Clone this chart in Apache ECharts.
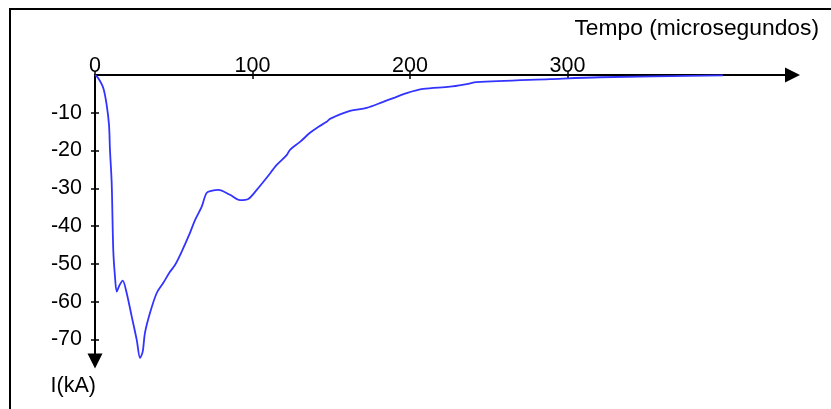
<!DOCTYPE html>
<html>
<head>
<meta charset="utf-8">
<script src="https://cdn.jsdelivr.net/npm/echarts@6/dist/echarts.min.js"></script>
<style>
html,body{margin:0;padding:0;background:#fff;}
#chart{width:831px;height:409px;}
</style>
</head>
<body>
<div id="chart"></div>
<script>
// Time (microseconds)
const timeUs = [0, 2, 5.3, 7.4, 8.9, 9.5, 10.6, 11.6, 12.7, 13.8, 15.6, 17.6, 20.1, 23.3, 26.5, 28.6, 30.3, 31.7, 34.9, 39.2, 43.4, 47.6, 50.8, 55.0, 60.3, 63.5, 67.7, 70.9, 74.5, 78.3, 85.7, 92.1, 97.3, 102.7, 109.0, 115.4, 121.7, 123.8, 130.2, 136.5, 140.8, 147.1, 149.2, 161.9, 172.5, 183.0, 189.4, 197.9, 208.4, 225.4, 236.0, 242.3, 288.9, 320.6, 398.7];
// Current (kA)
const currentKA = [0, -0.8, -3.5, -7.9, -13.2, -19.8, -28.6, -46.3, -53.4, -57.3, -55.6, -54.4, -57.7, -63.9, -70.1, -74.9, -73.2, -68.3, -63.0, -57.7, -55.0, -52.1, -50.3, -46.8, -41.8, -38.4, -34.9, -31.2, -30.6, -30.4, -31.7, -33.1, -32.8, -30.4, -27.2, -23.8, -21.2, -19.8, -17.7, -15.3, -14.0, -12.4, -11.6, -9.5, -8.7, -7.1, -6.1, -4.8, -3.7, -3.1, -2.4, -1.9, -1.1, -0.6, -0.1];
const xTicks = [0, 100, 200, 300];
const yTicks = [-10, -20, -30, -40, -50, -60, -70];
const xTitle = 'Tempo (microsegundos)';
const yTitle = 'I(kA)';

const font = 'Liberation Sans, Arial, sans-serif';
const fs = 21.5;
const chart = echarts.init(document.getElementById('chart'), null, {renderer: 'canvas'});
const pts = timeUs.map((t, i) => [t, currentKA[i]]);

const axisLineStyle = {color: '#000', width: 2};
chart.setOption({
  animation: false,
  backgroundColor: '#fff',
  grid: {left: 95, top: 75, width: 697.5, height: 286, containLabel: false},
  xAxis: [
    {
      type: 'value', position: 'top', min: 0, max: 442.9,
      axisLine: {show: true, onZero: false, lineStyle: axisLineStyle, symbol: ['none', 'triangle'], symbolSize: [15, 15]},
      axisTick: {show: true, length: 4, inside: false, customValues: xTicks, lineStyle: {color: '#000', width: 1.5}},
      axisLabel: {show: true, customValues: xTicks, margin: -2, color: '#000', fontSize: fs, fontFamily: font},
      splitLine: {show: false}
    },
    {
      type: 'value', position: 'top', min: 0, max: 442.9,
      axisLine: {show: false, onZero: false},
      axisTick: {show: true, length: 4, inside: true, customValues: xTicks, lineStyle: {color: '#000', width: 1.5}},
      axisLabel: {show: false},
      splitLine: {show: false}
    }
  ],
  yAxis: [
    {
      type: 'value', position: 'left', min: -75.7, max: 0,
      axisLine: {show: true, onZero: false, lineStyle: axisLineStyle, symbol: ['triangle', 'none'], symbolSize: [15, 15]},
      axisTick: {show: true, length: 4, inside: false, customValues: yTicks, lineStyle: {color: '#000', width: 1.5}},
      axisLabel: {show: true, customValues: yTicks, margin: 13, color: '#000', fontSize: fs, fontFamily: font},
      splitLine: {show: false}
    },
    {
      type: 'value', position: 'left', min: -75.7, max: 0,
      axisLine: {show: false, onZero: false},
      axisTick: {show: true, length: 4, inside: true, customValues: yTicks, lineStyle: {color: '#000', width: 1.5}},
      axisLabel: {show: false},
      splitLine: {show: false}
    }
  ],
  series: [{
    type: 'line',
    xAxisIndex: 0, yAxisIndex: 0,
    data: pts,
    showSymbol: false,
    smooth: 0.3,
    lineStyle: {color: '#3333ff', width: 1.8},
    z: 1
  }],
  graphic: [
    {type: 'rect', shape: {x: 10, y: 9, width: 900, height: 500}, style: {fill: 'none', stroke: '#000', lineWidth: 2}, z: -1, silent: true},
    {type: 'text', x: 819, y: 29, style: {text: xTitle, fill: '#000', font: '22.8px ' + font, textAlign: 'right', textVerticalAlign: 'middle'}},
    {type: 'text', x: 96, y: 386, style: {text: yTitle, fill: '#000', font: fs + 'px ' + font, textAlign: 'right', textVerticalAlign: 'middle'}}
  ]
});
</script>
</body>
</html>
